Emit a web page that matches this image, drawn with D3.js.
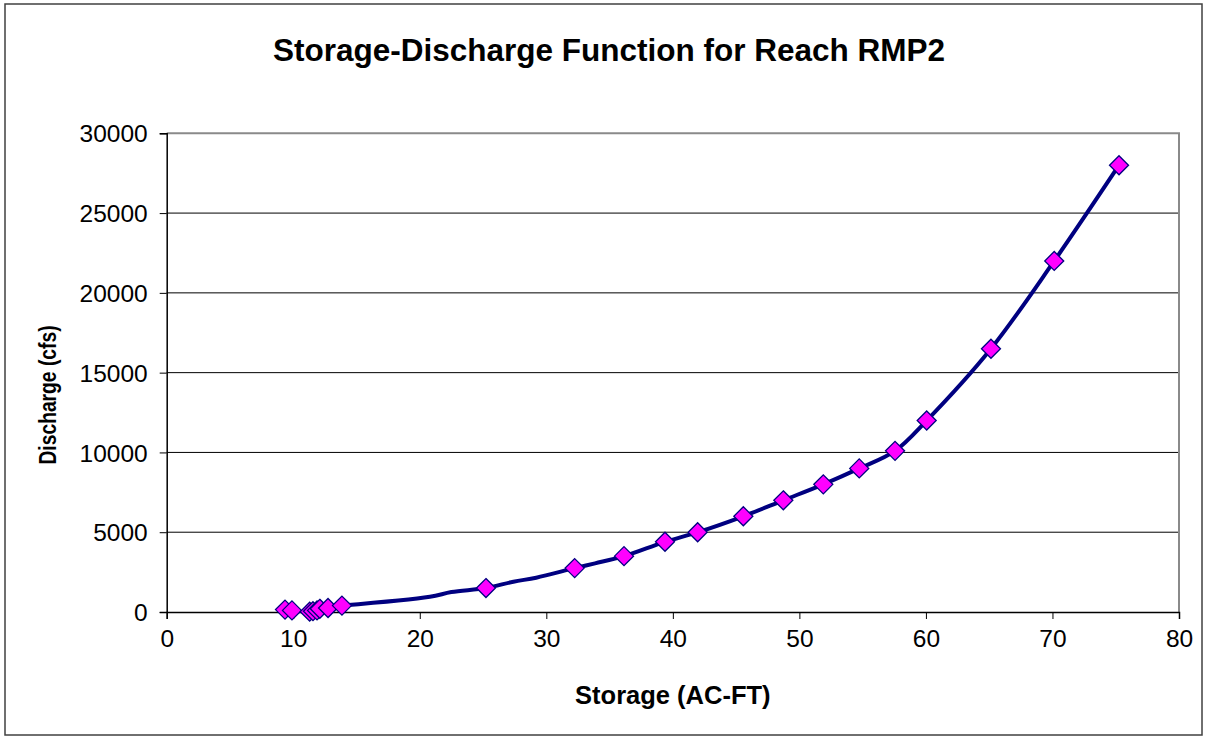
<!DOCTYPE html>
<html>
<head>
<meta charset="utf-8">
<script src="https://cdn.jsdelivr.net/npm/d3@7"></script>
<style>
  html, body { margin: 0; padding: 0; background: #fff; }
  svg { display: block; }
  text { font-family: "Liberation Sans", Arial, sans-serif; fill: #000; }
</style>
</head>
<body>
<svg id="chart" width="1207" height="740"></svg>
<script>
// ---- data ----
const chartTitle = "Storage-Discharge Function for Reach RMP2";
const xAxisTitle = "Storage (AC-FT)";
const yAxisTitle = "Discharge (cfs)";
const xTicks = [0, 10, 20, 30, 40, 50, 60, 70, 80];
const yTicks = [0, 5000, 10000, 15000, 20000, 25000, 30000];

// marker series (diamonds)
const markerStorage = [9.35, 9.9, 11.3, 11.56, 11.88, 12.1, 12.75, 13.85, 25.23, 32.24, 36.14, 39.38, 41.96, 45.57, 48.73, 51.89, 54.73, 57.56, 60.06, 65.14, 70.14, 75.26];
const markerDischarge = [150, 100, 20, 50, 100, 200, 250, 400, 1500, 2750, 3500, 4400, 5000, 6000, 7000, 8000, 9000, 10100, 12000, 16500, 22000, 28000];

// line series (smoothed)
const lineStorage = [13.85, 20.8, 22.5, 25.23, 27.4, 29.2, 32.24, 33.85, 36.14, 39.38, 41.96, 45.57, 48.73, 51.89, 54.73, 57.56, 60.06, 65.14, 70.14, 75.26];
const lineDischarge = [400, 950, 1250, 1500, 1900, 2150, 2750, 3050, 3500, 4400, 5000, 6000, 7000, 8000, 9000, 10100, 12000, 16500, 22000, 28000];

// ---- layout ----
const svg = d3.select("#chart");
const plot = { left: 166.7, right: 1179, top: 133.3, bottom: 612 };

const x = d3.scaleLinear().domain([0, 80]).range([plot.left, plot.right]);
const y = d3.scaleLinear().domain([0, 30000]).range([plot.bottom, plot.top]);

// outer frame
svg.append("rect")
  .attr("x", 5).attr("y", 4).attr("width", 1197).attr("height", 731)
  .attr("fill", "#fff").attr("stroke", "#404040").attr("stroke-width", 1.5);

// gridlines
svg.append("g")
  .selectAll("line")
  .data(yTicks.filter(d => d > 0 && d < 30000))
  .join("line")
  .attr("x1", plot.left).attr("x2", plot.right)
  .attr("y1", d => y(d)).attr("y2", d => y(d))
  .attr("stroke", "#000").attr("stroke-width", 1);

// plot area border (top + right gray)
svg.append("path")
  .attr("d", `M${plot.left},${y(30000)}H${plot.right}V${plot.bottom}`)
  .attr("fill", "none").attr("stroke", "#8a8a8a").attr("stroke-width", 2);

// y axis
const yAxis = d3.axisLeft(y).tickValues(yTicks).tickSize(7).tickFormat(d3.format("d"));
const gy = svg.append("g").attr("transform", `translate(${plot.left},0)`).call(yAxis);
gy.select(".domain").attr("stroke", "#000").attr("stroke-width", 1.5);
gy.selectAll(".tick line").attr("stroke", "#000");
gy.selectAll(".tick text")
  .attr("x", -19).attr("dy", null).attr("y", 8.6)
  .attr("fill", "#000")
  .style("font-family", "Liberation Sans, Arial, sans-serif")
  .style("font-size", "24.5px");

// x axis
const xAxis = d3.axisBottom(x).tickValues(xTicks).tickSize(7).tickFormat(d3.format("d"));
const gx = svg.append("g").attr("transform", `translate(0,${plot.bottom})`).call(xAxis);
gx.select(".domain").attr("stroke", "#000").attr("stroke-width", 1.5);
gx.selectAll(".tick line").attr("stroke", "#000");
gx.selectAll(".tick text")
  .attr("dy", null).attr("y", 35)
  .attr("fill", "#000")
  .style("font-family", "Liberation Sans, Arial, sans-serif")
  .style("font-size", "24.5px");

// line
const linePts = lineStorage.map((s, i) => [s, lineDischarge[i]]);
svg.append("path")
  .datum(linePts)
  .attr("fill", "none")
  .attr("stroke", "#000080")
  .attr("stroke-width", 4)
  .attr("stroke-linejoin", "round")
  .attr("d", d3.line().x(d => x(d[0])).y(d => y(d[1])).curve(d3.curveCatmullRom.alpha(0.5)));

// markers
const markerPts = markerStorage.map((s, i) => [s, markerDischarge[i]]);
const r = 9.5;
svg.append("g")
  .selectAll("path")
  .data(markerPts)
  .join("path")
  .attr("d", d => {
    const cx = x(d[0]), cy = y(d[1]);
    return `M${cx},${cy - r}L${cx + r},${cy}L${cx},${cy + r}L${cx - r},${cy}Z`;
  })
  .attr("fill", "#ff00ff")
  .attr("stroke", "#000080")
  .attr("stroke-width", 1.3);

// titles
svg.append("text")
  .attr("text-anchor", "middle")
  .attr("x", 609).attr("y", 61)
  .style("font-size", "31.5px").style("font-weight", "bold")
  .text(chartTitle);

svg.append("text")
  .attr("text-anchor", "middle")
  .attr("x", (plot.left + plot.right) / 2).attr("y", 704)
  .style("font-size", "25.5px").style("font-weight", "bold")
  .text(xAxisTitle);

svg.append("text")
  .attr("text-anchor", "middle")
  .attr("dy", "0.36em")
  .attr("transform", `translate(48,395) rotate(-90) scale(0.82,1)`)
  .style("font-size", "23.5px").style("font-weight", "bold")
  .text(yAxisTitle);
</script>
</body>
</html>
